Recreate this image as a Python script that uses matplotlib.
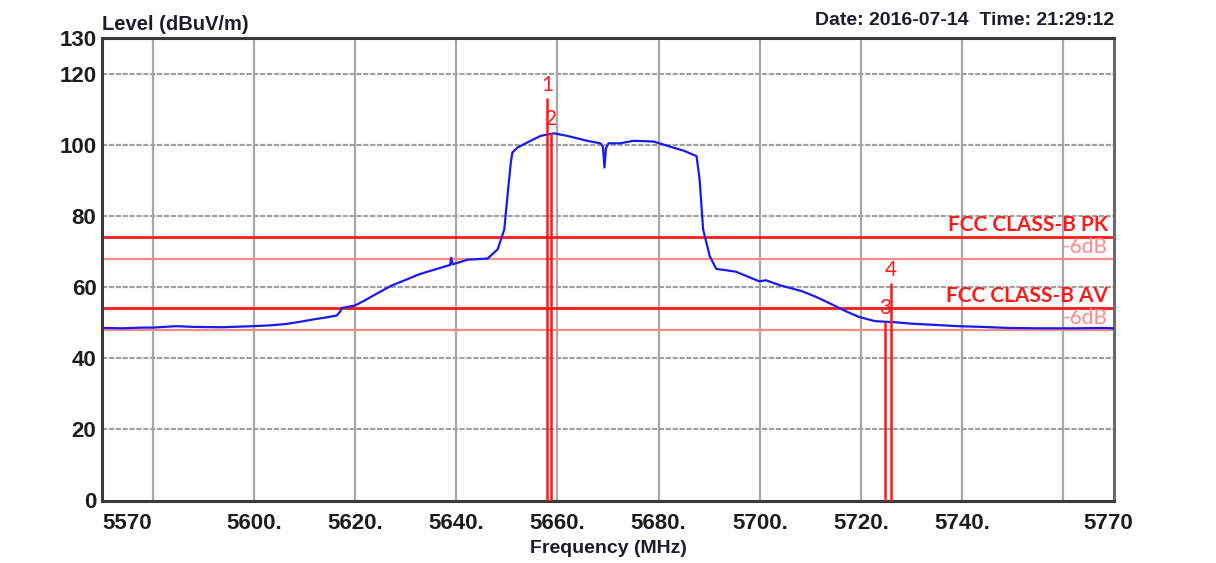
import matplotlib
matplotlib.use('Agg')
import matplotlib.pyplot as plt
from matplotlib.transforms import ScaledTranslation

# --- data ------------------------------------------------------------------
freq = [5570.0, 5574, 5578, 5580, 5584.7, 5588, 5593.8, 5599.7, 5603, 5606.3,
        5609, 5612.2, 5614.5, 5616.4, 5617.0, 5617.4, 5620, 5622, 5624, 5627.2,
        5630, 5632.5, 5635.7, 5638.8, 5639.0, 5639.3, 5642.3, 5646.2, 5648.2,
        5649.5, 5650.3, 5650.8, 5651.1, 5652.1, 5654.7, 5656.7, 5659.3, 5661.9,
        5665.9, 5668.5, 5669.0, 5669.3, 5669.6, 5670.1, 5672.4, 5675, 5679,
        5682.9, 5685, 5687.5, 5688.1, 5688.8, 5690.1, 5691.4, 5693, 5695.3,
        5697, 5699.9, 5701.2, 5704, 5708.4, 5711, 5714.3, 5717, 5719.6, 5722.8,
        5726.8, 5730, 5734, 5739.2, 5744, 5749, 5755, 5762, 5768, 5770]
level = [48.5, 48.4, 48.6, 48.6, 49.0, 48.8, 48.7, 49.0, 49.2, 49.6,
         50.2, 51.0, 51.5, 52.0, 53.0, 54.1, 54.8, 56.3, 57.9, 60.4,
         62.0, 63.5, 64.9, 66.2, 68.2, 66.4, 67.7, 68.0, 70.6,
         76.2, 88.0, 95.0, 97.8, 99.2, 101.1, 102.5, 103.2, 102.5,
         101.1, 100.4, 99.5, 93.6, 99.0, 100.4, 100.4, 101.1, 100.9,
         99.2, 98.3, 96.8, 90.3, 76.2, 68.7, 65.1, 64.8, 64.3,
         63.3, 61.6, 61.9, 60.5, 58.8, 57.3, 55.1, 53.2, 51.6, 50.4,
         50.1, 49.7, 49.4, 49.0, 48.8, 48.5, 48.4, 48.4, 48.5, 48.4]

limit_names = ['FCC CLASS-B PK', 'FCC CLASS-B AV']
limit_values = [74, 54]
limit_margin = 6

marker_ids = ['1', '2', '3', '4']
marker_freq = [5658.0, 5658.8, 5724.7, 5725.9]
marker_top = [113.0, 103.3, 50.2, 61.0]

xtick_values = [5570, 5600, 5620, 5640, 5660, 5680, 5700, 5720, 5740, 5770]
xtick_labels = ['5570', '5600.', '5620.', '5640.', '5660.', '5680.', '5700.',
                '5720.', '5740.', '5770']
xgrid_values = [5580, 5600, 5620, 5640, 5660, 5680, 5700, 5720, 5740, 5760]
ytick_values = [0, 20, 40, 60, 80, 100, 120, 130]
ygrid_values = [20, 40, 60, 80, 100, 120]

# --- styling ---------------------------------------------------------------
AX_FONT = ['Liberation Sans Narrow', 'Liberation Sans', 'DejaVu Sans']
LIM_FONT = ['Lato', 'DejaVu Sans']
RED = '#ff1a1a'
PINK = '#ff8a8a'

fig = plt.figure(figsize=(12.16, 5.63), dpi=100)
fig.patch.set_facecolor('white')
ax = fig.add_axes([102 / 1216, 62.5 / 563, 1012 / 1216, 462.5 / 563])
ax.set_facecolor('#fdfefd')
ax.set_xlim(5570, 5770)
ax.set_ylim(0, 130)

# grid: solid verticals, finely dashed horizontals
for gx in xgrid_values:
    ax.axvline(gx, color='#a8a8a8', lw=1.6, zorder=1)
for gy in ygrid_values:
    ax.axhline(gy, color='#a0a0a0', lw=1.5, ls=(0, (2.5, 0.8)), zorder=1)

# limit lines and their -6 dB margin lines
for name, val in zip(limit_names, limit_values):
    ax.axhline(val, color=RED, lw=2.0, zorder=2)
    ax.axhline(val - limit_margin, color=PINK, lw=1.6, zorder=2)
    ax.text(5768.8, val + 0.7, name, ha='right', va='bottom', color=RED,
            fontsize=15, fontweight='bold', family=LIM_FONT, zorder=5)
    ax.text(5768.8, val - limit_margin + 0.5, '-6dB', ha='right', va='bottom',
            color=PINK, fontsize=15, family=LIM_FONT, zorder=5)

# measurement trace
ax.plot(freq, level, color='#1a1aee', lw=1.6, zorder=3)

# markers
for mid, mf, mt in zip(marker_ids, marker_freq, marker_top):
    ax.vlines(mf, 0, mt, color=RED, lw=1.8, zorder=4)
    ax.text(mf, mt + 1.0, mid, ha='center', va='bottom', color=RED,
            fontsize=15, family=LIM_FONT, zorder=5)

# axes frame
for side in ['left', 'bottom', 'top']:
    ax.spines[side].set_color('#3a3a3a')
    ax.spines[side].set_linewidth(2.2)
ax.spines['right'].set_color('#6a6a6a')
ax.spines['right'].set_linewidth(2.2)

ax.set_xticks(xtick_values)
ax.set_xticklabels(xtick_labels)
ax.set_yticks(ytick_values)
ax.set_yticklabels([str(v) for v in ytick_values])
ax.tick_params(length=0, labelsize=16, colors='#1c1c1c')
ax.tick_params(axis='x', pad=9)
ax.tick_params(axis='y', pad=4)
for lab in ax.get_xticklabels() + ax.get_yticklabels():
    lab.set_family(AX_FONT)
    lab.set_fontweight('bold')
ax.get_xticklabels()[0].set_ha('left')
last = ax.get_xticklabels()[-1]
last.set_transform(last.get_transform()
                   + ScaledTranslation(-6 / 100, 0, fig.dpi_scale_trans))

ax.set_xlabel('Frequency (MHz)', fontsize=14, fontweight='bold',
              family=AX_FONT, color='#1c1c2c', labelpad=4)
ax.text(0.0, 1.008, 'Level (dBuV/m)', transform=ax.transAxes, ha='left',
        va='bottom', fontsize=14.5, fontweight='bold', family=AX_FONT,
        color='#1c1c2c')
ax.text(1.0, 1.02, 'Date: 2016-07-14  Time: 21:29:12', transform=ax.transAxes,
        ha='right', va='bottom', fontsize=14, fontweight='bold',
        family=AX_FONT, color='#1c1c2c')

fig.savefig('out.png', dpi=100, facecolor=fig.get_facecolor())
